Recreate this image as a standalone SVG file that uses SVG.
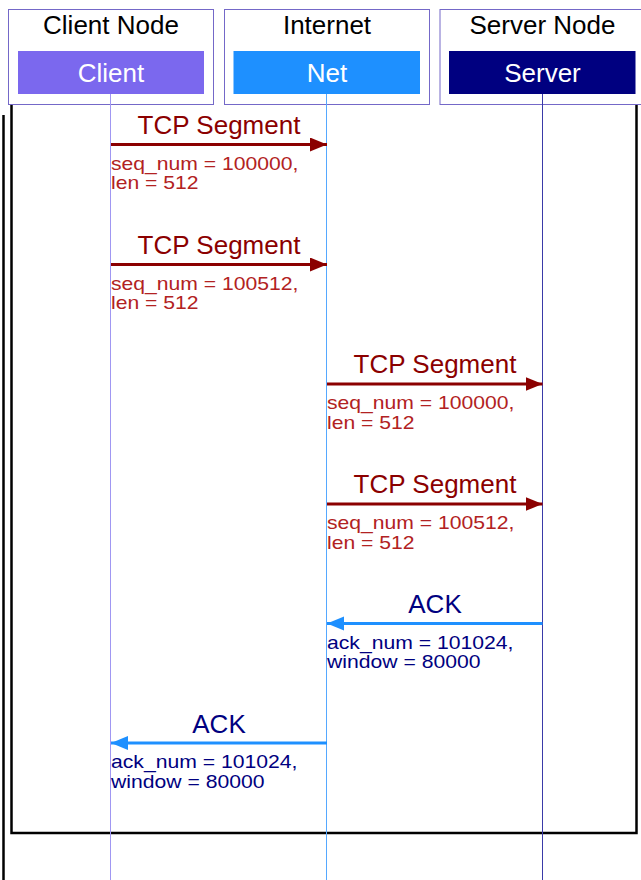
<svg xmlns="http://www.w3.org/2000/svg" width="641" height="880" viewBox="0 0 641 880">
<style>
text{font-family:"Liberation Sans",Arial,sans-serif}
.title{font-size:26px;fill:#000;text-anchor:middle}
.inner{font-size:26px;fill:#fff;text-anchor:middle}
.outer{fill:#fff;stroke:#7468c8;stroke-width:1}
.lbl{font-size:26px;text-anchor:middle}
.sub{font-size:19px}
.tcp{fill:#8b0000}
.tcpsub{fill:#b22222}
.ack{fill:#000080}
.seg{stroke:#8b0000;stroke-width:3;fill:none}
.ackl{stroke:#1e90ff;stroke-width:3;fill:none}
.frame{stroke:#000;stroke-width:2.5;fill:none}
</style>
<defs>
<marker id="hr" markerUnits="userSpaceOnUse" markerWidth="18" markerHeight="16" refX="17" refY="7" orient="auto"><path d="M0,0 L17,7 L0,14 Z" fill="#8b0000"/></marker>
<marker id="hb" markerUnits="userSpaceOnUse" markerWidth="18" markerHeight="16" refX="17" refY="7" orient="auto"><path d="M0,0 L17,7 L0,14 Z" fill="#1e90ff"/></marker>
</defs>
<rect width="641" height="880" fill="#fff"/>
<g id="frame">
<path class="frame" d="M3.5,115 V880"/>
<path class="frame" d="M11.5,104 V833 H636.5 V104"/>
</g>
<g id="client">
<rect class="outer" x="8.5" y="9.5" width="205" height="95"/>
<text class="title" x="111" y="34">Client Node</text>
<rect x="18" y="51" width="186" height="43" fill="#7b68ee"/>
<text class="inner" x="111" y="81.5">Client</text>
<line x1="110.5" y1="94" x2="110.5" y2="880" stroke="#a097f2" stroke-width="1"/>
</g>
<g id="internet">
<rect class="outer" x="224.5" y="9.5" width="205" height="95"/>
<text class="title" x="327" y="34">Internet</text>
<rect x="233.5" y="51" width="186.5" height="43" fill="#1e90ff"/>
<text class="inner" x="327" y="81.5">Net</text>
<line x1="326.5" y1="94" x2="326.5" y2="880" stroke="#55a8ff" stroke-width="1"/>
</g>
<g id="server">
<rect class="outer" x="440" y="9.5" width="205" height="95"/>
<text class="title" x="542.5" y="34">Server Node</text>
<rect x="449" y="51" width="186.5" height="43" fill="#000080"/>
<text class="inner" x="542.5" y="81.5">Server</text>
<line x1="542.5" y1="94" x2="542.5" y2="880" stroke="#3a3aa8" stroke-width="1"/>
</g>
<g id="connectors">
<line class="seg" x1="111" y1="144.5" x2="327" y2="144.5" marker-end="url(#hr)"/>
<text class="lbl tcp" x="219" y="133.5">TCP Segment</text>
<text class="sub tcpsub" x="111" y="169.5" textLength="187.5" lengthAdjust="spacingAndGlyphs">seq_num = 100000,</text>
<text class="sub tcpsub" x="111" y="189" textLength="87.5" lengthAdjust="spacingAndGlyphs">len = 512</text>

<line class="seg" x1="111" y1="264.5" x2="327" y2="264.5" marker-end="url(#hr)"/>
<text class="lbl tcp" x="219" y="253.5">TCP Segment</text>
<text class="sub tcpsub" x="111" y="289.5" textLength="187.5" lengthAdjust="spacingAndGlyphs">seq_num = 100512,</text>
<text class="sub tcpsub" x="111" y="309" textLength="87.5" lengthAdjust="spacingAndGlyphs">len = 512</text>

<line class="seg" x1="327" y1="384" x2="542.5" y2="384" marker-end="url(#hr)"/>
<text class="lbl tcp" x="435" y="373">TCP Segment</text>
<text class="sub tcpsub" x="327" y="409" textLength="187.5" lengthAdjust="spacingAndGlyphs">seq_num = 100000,</text>
<text class="sub tcpsub" x="327" y="428.5" textLength="87.5" lengthAdjust="spacingAndGlyphs">len = 512</text>

<line class="seg" x1="327" y1="504" x2="542.5" y2="504" marker-end="url(#hr)"/>
<text class="lbl tcp" x="435" y="493">TCP Segment</text>
<text class="sub tcpsub" x="327" y="529" textLength="187.5" lengthAdjust="spacingAndGlyphs">seq_num = 100512,</text>
<text class="sub tcpsub" x="327" y="548.5" textLength="87.5" lengthAdjust="spacingAndGlyphs">len = 512</text>

<line class="ackl" x1="542.5" y1="623.5" x2="327" y2="623.5" marker-end="url(#hb)"/>
<text class="lbl ack" x="435" y="613">ACK</text>
<text class="sub ack" x="327" y="648.5" textLength="186.5" lengthAdjust="spacingAndGlyphs">ack_num = 101024,</text>
<text class="sub ack" x="327" y="668" textLength="153.5" lengthAdjust="spacingAndGlyphs">window = 80000</text>

<line class="ackl" x1="327" y1="743" x2="111" y2="743" marker-end="url(#hb)"/>
<text class="lbl ack" x="219" y="732.5">ACK</text>
<text class="sub ack" x="111" y="768" textLength="186.5" lengthAdjust="spacingAndGlyphs">ack_num = 101024,</text>
<text class="sub ack" x="111" y="787.5" textLength="153.5" lengthAdjust="spacingAndGlyphs">window = 80000</text>
</g>
</svg>
